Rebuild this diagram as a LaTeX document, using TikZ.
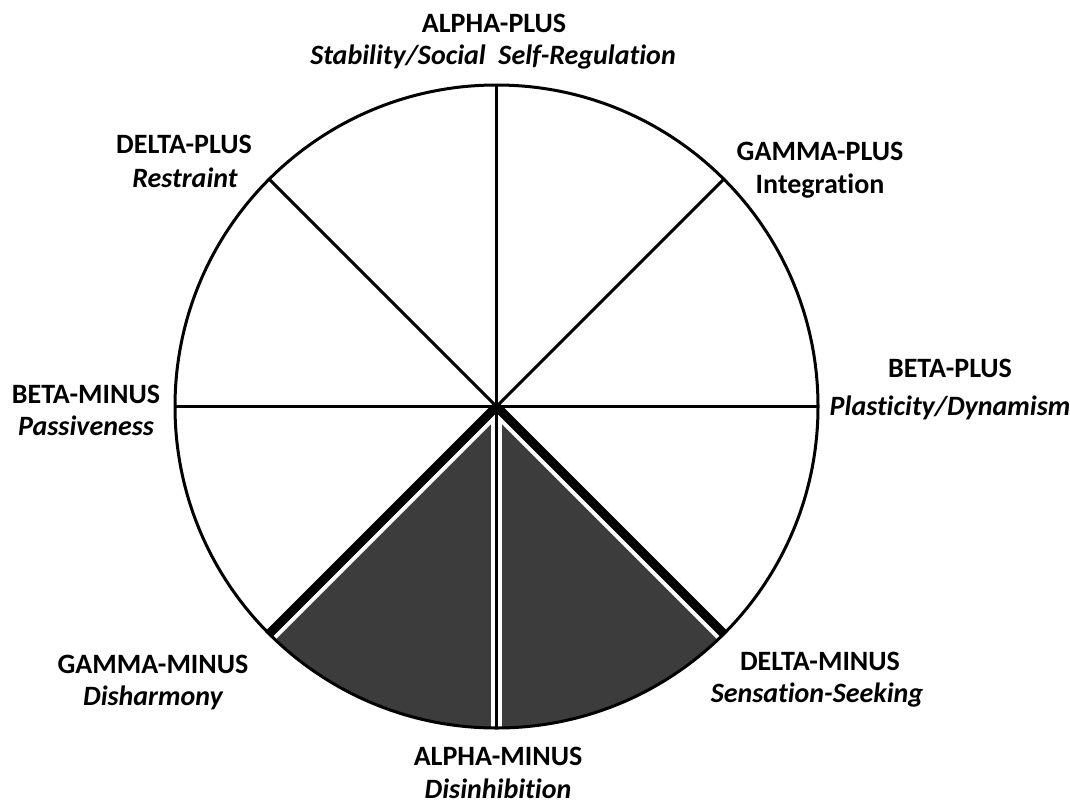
\documentclass[tikz,border=0pt]{standalone}
\usepackage{fontspec}
\setmainfont{Carlito}[Ligatures={NoCommon,NoContextual,NoRequired}]
\definecolor{sectordark}{RGB}{60,60,60}
\newcommand\nlg{\kern0pt }
\begin{document}
\begin{tikzpicture}[x=1pt,y=-1pt,
  thinline/.style={line width=3pt,black},
  thickline/.style={line width=9pt,black},
  gapband/.style={line width=17pt,white},
  vgapband/.style={line width=11pt,white},
  head/.style={anchor=base,inner sep=0pt,font=\fontsize{28}{33}\selectfont\bfseries},
  sub/.style={anchor=base,inner sep=0pt,font=\fontsize{28}{33}\selectfont\bfseries\itshape},
  subup/.style={anchor=base,inner sep=0pt,font=\fontsize{28}{33}\selectfont\bfseries}]
\useasboundingbox (0,0) rectangle (1070,803);
% key points
\coordinate (C) at (496.5,406.5);
\coordinate (T) at (496.5,85);
\coordinate (B) at (496.5,728);
\coordinate (L) at (175,406.5);
\coordinate (R) at (818,406.5);
\coordinate (UL) at (269.2,179.2);
\coordinate (UR) at (723.8,179.2);
\coordinate (LL) at (269.2,633.8);
\coordinate (LR) at (723.8,633.8);
% dark sector
\fill[sectordark] (C) -- (LL) arc[start angle=225,end angle=315,radius=321.5pt] -- cycle;
% white separating bands
\draw[gapband] (C) -- (LL);
\draw[gapband] (C) -- (LR);
\draw[vgapband] (C) -- (B);
% spokes
\draw[thinline] (T) -- (C);
\draw[thinline] (L) -- (R);
\draw[thinline] (UL) -- (C);
\draw[thinline] (UR) -- (C);
\draw[thinline] (C) -- (B);
\draw[thickline] (C) -- (LL);
\draw[thickline] (C) -- (LR);
% circle
\draw[thinline] (C) circle[radius=321.5pt];
% labels
\node[head] (ap1) at (494,32) {ALPHA-PLUS};
\node[sub] (ap2) at (493,64) {Stability/Social~ Self-Regulat\nlg ion};
\node[head] (dp1) at (184,153) {DELTA-PLUS};
\node[sub] (dp2) at (185,187) {Restraint};
\node[head] (gp1) at (820,160) {GAMMA-PLUS};
\node[subup] (gp2) at (820,193) {Integrat\nlg ion};
\node[head] (bm1) at (86,403) {BETA-MINUS};
\node[sub] (bm2) at (86,435) {Passiveness};
\node[head] (bp1) at (950,377) {BETA-PLUS};
\node[sub] (bp2) at (950,415) {Plast\nlg icity/Dynamism};
\node[head] (gm1) at (153,673) {GAMMA-MINUS};
\node[sub] (gm2) at (153,705) {Disharmony};
\node[head] (dm1) at (820,670) {DELTA-MINUS};
\node[sub] (dm2) at (817,702) {Sensat\nlg ion-Seeking};
\node[head] (am1) at (498,765) {ALPHA-MINUS};
\node[sub] (am2) at (498,798) {Disinhibit\nlg ion};
\end{tikzpicture}
\end{document}
